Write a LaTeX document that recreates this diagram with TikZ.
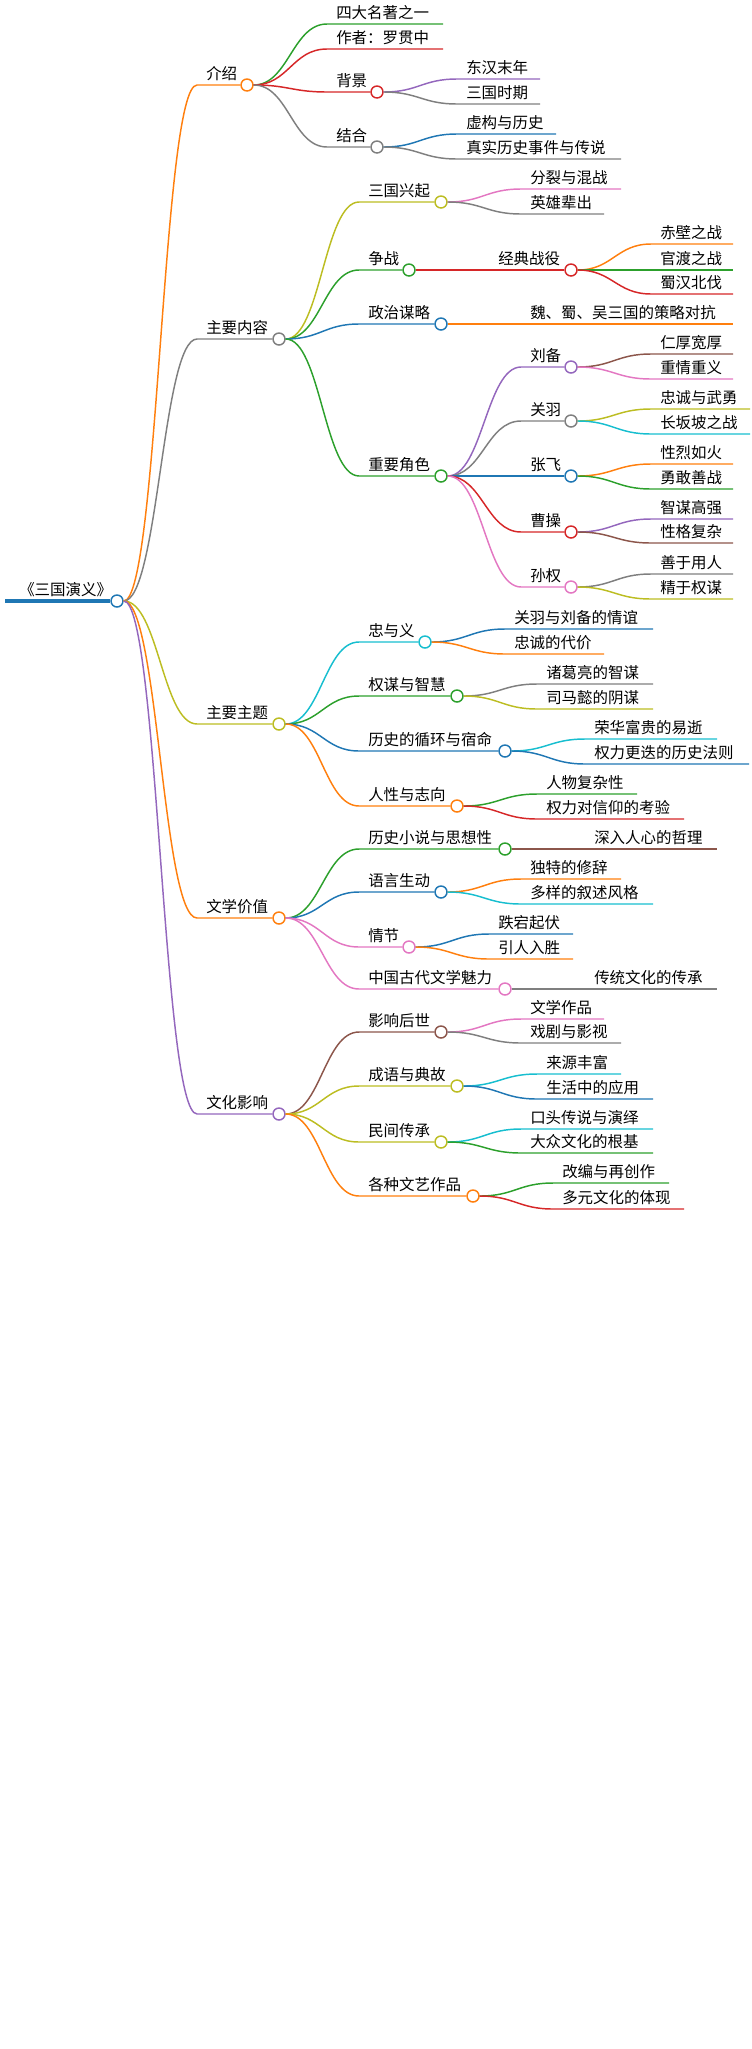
\documentclass[tikz,border=0pt]{standalone}
\usepackage{fontspec}
\setmainfont{Noto Sans CJK SC}
\usetikzlibrary{calc}
\definecolor{co}{HTML}{FF7F0E}\definecolor{cg}{HTML}{2CA02C}\definecolor{cr}{HTML}{D62728}
\definecolor{cp}{HTML}{9467BD}\definecolor{cn}{HTML}{8C564B}\definecolor{ck}{HTML}{E377C2}
\definecolor{cy}{HTML}{7F7F7F}\definecolor{ol}{HTML}{BCBD22}\definecolor{cc}{HTML}{17BECF}
\definecolor{bl}{HTML}{1F77B4}
\tikzset{
 dot/.style={circle,draw=#1,fill=white,line width=1.1pt,minimum size=9pt,inner sep=0pt},
 lbl/.style={anchor=base west,inner sep=0pt,font=\fontsize{11.6}{13}\selectfont},
 e/.style={draw=#1,line width=1.1pt},
 br/.style={to path={let \p1=(\tikztostart),\p2=(\tikztotarget) in (\p1) .. controls (\x1+26pt,\y1) and (\x1+29pt,\y2) .. (\x1+55pt,\y2) -- (\p2)}}
}
\newcommand\inode[6]{\node[dot=#2] (#1) at (#3,#4) {}; \node[lbl] (#1-t) at (#6,#4-6) {#5};}
\newcommand\leaf[5]{\node[lbl] (#1) at (#2,#3-6) {#5}; \coordinate (#1-e) at (#4,#3);}
\begin{document}
\begin{tikzpicture}[x=0.75pt,y=-0.75pt]
\useasboundingbox (0,0) rectangle (752,2049);
% root
\coordinate (rootL) at (5,601);
\inode{root}{bl}{117}{601}{《三国演义》}{19}
\draw[bl,line width=3pt] (rootL) -- (root.west);
% level 1
\inode{intro}{co}{247}{85}{介绍}{206}
\inode{main}{cy}{279}{339}{主要内容}{206}
\inode{theme}{ol}{279}{724}{主要主题}{206}
\inode{lit}{co}{279}{918}{文学价值}{206}
\inode{cult}{cp}{279}{1114}{文化影响}{206}
\draw[e=co] (root.east) to[br] (intro.west);
\draw[e=cy] (root.east) to[br] (main.west);
\draw[e=ol] (root.east) to[br] (theme.west);
\draw[e=co] (root.east) to[br] (lit.west);
\draw[e=cp] (root.east) to[br] (cult.west);
% intro
\leaf{a1}{336}{24}{443}{四大名著之一}
\leaf{a2}{336}{49}{443}{作者：罗贯中}
\inode{bg}{cr}{377}{92}{背景}{336}
\inode{jh}{cy}{377}{147}{结合}{336}
\draw[e=cg] (intro.east) to[br] (a1-e);
\draw[e=cr] (intro.east) to[br] (a2-e);
\draw[e=cr] (intro.east) to[br] (bg.west);
\draw[e=cy] (intro.east) to[br] (jh.west);
\leaf{b1}{466}{79}{540}{东汉末年}
\leaf{b2}{466}{104}{540}{三国时期}
\draw[e=cp] (bg.east) to[br] (b1-e);
\draw[e=cy] (bg.east) to[br] (b2-e);
\leaf{j1}{466}{134}{556}{虚构与历史}
\leaf{j2}{466}{159}{621}{真实历史事件与传说}
\draw[e=bl] (jh.east) to[br] (j1-e);
\draw[e=cy] (jh.east) to[br] (j2-e);
% main
\inode{sg}{ol}{441}{202}{三国兴起}{368}
\inode{zz}{cg}{409}{270}{争战}{368}
\inode{zl}{bl}{441}{324}{政治谋略}{368}
\inode{js}{cg}{441}{476}{重要角色}{368}
\draw[e=ol] (main.east) to[br] (sg.west);
\draw[e=cg] (main.east) to[br] (zz.west);
\draw[e=bl] (main.east) to[br] (zl.west);
\draw[e=cg] (main.east) to[br] (js.west);
\leaf{s1}{530}{189}{621}{分裂与混战}
\leaf{s2}{530}{214}{604}{英雄辈出}
\draw[e=ck] (sg.east) to[br] (s1-e);
\draw[e=cy] (sg.east) to[br] (s2-e);
\inode{jd}{cr}{571}{270}{经典战役}{498}
\draw[e=cr] (zz.east) to[br] (jd.west);
\leaf{d1}{660}{244}{733}{赤壁之战}
\leaf{d2}{660}{270}{733}{官渡之战}
\leaf{d3}{660}{294}{733}{蜀汉北伐}
\draw[e=co] (jd.east) to[br] (d1-e);
\draw[e=cg] (jd.east) to[br] (d2-e);
\draw[e=cr] (jd.east) to[br] (d3-e);
\leaf{z1}{530}{324}{733}{魏、蜀、吴三国的策略对抗}
\draw[e=co] (zl.east) to[br] (z1-e);
\inode{lb}{cp}{571}{367}{刘备}{530}
\inode{gy}{cy}{571}{421}{关羽}{530}
\inode{zf}{bl}{571}{476}{张飞}{530}
\inode{cao}{cr}{571}{532}{曹操}{530}
\inode{sq}{ck}{571}{587}{孙权}{530}
\draw[e=cp] (js.east) to[br] (lb.west);
\draw[e=cy] (js.east) to[br] (gy.west);
\draw[e=bl] (js.east) to[br] (zf.west);
\draw[e=cr] (js.east) to[br] (cao.west);
\draw[e=ck] (js.east) to[br] (sq.west);
\leaf{l1}{660}{354}{733}{仁厚宽厚}
\leaf{l2}{660}{379}{733}{重情重义}
\draw[e=cn] (lb.east) to[br] (l1-e);
\draw[e=ck] (lb.east) to[br] (l2-e);
\leaf{g1}{660}{409}{750}{忠诚与武勇}
\leaf{g2}{660}{434}{750}{长坂坡之战}
\draw[e=ol] (gy.east) to[br] (g1-e);
\draw[e=cc] (gy.east) to[br] (g2-e);
\leaf{f1}{660}{464}{733}{性烈如火}
\leaf{f2}{660}{489}{733}{勇敢善战}
\draw[e=co] (zf.east) to[br] (f1-e);
\draw[e=cg] (zf.east) to[br] (f2-e);
\leaf{c1}{660}{519}{733}{智谋高强}
\leaf{c2}{660}{543}{733}{性格复杂}
\draw[e=cp] (cao.east) to[br] (c1-e);
\draw[e=cn] (cao.east) to[br] (c2-e);
\leaf{q1}{660}{574}{733}{善于用人}
\leaf{q2}{660}{599}{733}{精于权谋}
\draw[e=cy] (sq.east) to[br] (q1-e);
\draw[e=ol] (sq.east) to[br] (q2-e);
% theme
\inode{zy}{cc}{425}{642}{忠与义}{368}
\inode{qm}{cg}{457}{696}{权谋与智慧}{368}
\inode{ls}{bl}{505}{751}{历史的循环与宿命}{368}
\inode{rx}{co}{457}{806}{人性与志向}{368}
\draw[e=cc] (theme.east) to[br] (zy.west);
\draw[e=cg] (theme.east) to[br] (qm.west);
\draw[e=bl] (theme.east) to[br] (ls.west);
\draw[e=co] (theme.east) to[br] (rx.west);
\leaf{y1}{514}{629}{653}{关羽与刘备的情谊}
\leaf{y2}{514}{654}{604}{忠诚的代价}
\draw[e=bl] (zy.east) to[br] (y1-e);
\draw[e=co] (zy.east) to[br] (y2-e);
\leaf{m1}{546}{684}{653}{诸葛亮的智谋}
\leaf{m2}{546}{709}{653}{司马懿的阴谋}
\draw[e=cy] (qm.east) to[br] (m1-e);
\draw[e=ol] (qm.east) to[br] (m2-e);
\leaf{h1}{594}{739}{717}{荣华富贵的易逝}
\leaf{h2}{594}{764}{749}{权力更迭的历史法则}
\draw[e=cc] (ls.east) to[br] (h1-e);
\draw[e=bl] (ls.east) to[br] (h2-e);
\leaf{r1}{546}{794}{637}{人物复杂性}
\leaf{r2}{546}{819}{684}{权力对信仰的考验}
\draw[e=cg] (rx.east) to[br] (r1-e);
\draw[e=cr] (rx.east) to[br] (r2-e);
% lit
\inode{xs}{cg}{505}{849}{历史小说与思想性}{368}
\inode{yy}{bl}{441}{892}{语言生动}{368}
\inode{qj}{ck}{409}{947}{情节}{368}
\inode{zg}{ck}{505}{989}{中国古代文学魅力}{368}
\draw[e=cg] (lit.east) to[br] (xs.west);
\draw[e=bl] (lit.east) to[br] (yy.west);
\draw[e=ck] (lit.east) to[br] (qj.west);
\draw[e=ck] (lit.east) to[br] (zg.west);
\leaf{x1}{594}{849}{717}{深入人心的哲理}
\draw[e=cn] (xs.east) to[br] (x1-e);
\leaf{v1}{530}{879}{621}{独特的修辞}
\leaf{v2}{530}{904}{653}{多样的叙述风格}
\draw[e=co] (yy.east) to[br] (v1-e);
\draw[e=cc] (yy.east) to[br] (v2-e);
\leaf{p1}{498}{934}{573}{跌宕起伏}
\leaf{p2}{498}{959}{573}{引人入胜}
\draw[e=bl] (qj.east) to[br] (p1-e);
\draw[e=co] (qj.east) to[br] (p2-e);
\leaf{w1}{594}{989}{717}{传统文化的传承}
\draw[e=cy] (zg.east) to[br] (w1-e);
% cult
\inode{yx}{cn}{441}{1032}{影响后世}{368}
\inode{cyd}{ol}{457}{1086}{成语与典故}{368}
\inode{mj}{ol}{441}{1142}{民间传承}{368}
\inode{gz}{co}{473}{1196}{各种文艺作品}{368}
\draw[e=cn] (cult.east) to[br] (yx.west);
\draw[e=ol] (cult.east) to[br] (cyd.west);
\draw[e=ol] (cult.east) to[br] (mj.west);
\draw[e=co] (cult.east) to[br] (gz.west);
\leaf{u1}{530}{1019}{604}{文学作品}
\leaf{u2}{530}{1043}{621}{戏剧与影视}
\draw[e=ck] (yx.east) to[br] (u1-e);
\draw[e=cy] (yx.east) to[br] (u2-e);
\leaf{t1}{546}{1074}{621}{来源丰富}
\leaf{t2}{546}{1099}{653}{生活中的应用}
\draw[e=cc] (cyd.east) to[br] (t1-e);
\draw[e=bl] (cyd.east) to[br] (t2-e);
\leaf{n1}{530}{1129}{653}{口头传说与演绎}
\leaf{n2}{530}{1153}{653}{大众文化的根基}
\draw[e=cc] (mj.east) to[br] (n1-e);
\draw[e=cg] (mj.east) to[br] (n2-e);
\leaf{k1}{562}{1183}{669}{改编与再创作}
\leaf{k2}{562}{1209}{684}{多元文化的体现}
\draw[e=cg] (gz.east) to[br] (k1-e);
\draw[e=cr] (gz.east) to[br] (k2-e);
\end{tikzpicture}
\end{document}
